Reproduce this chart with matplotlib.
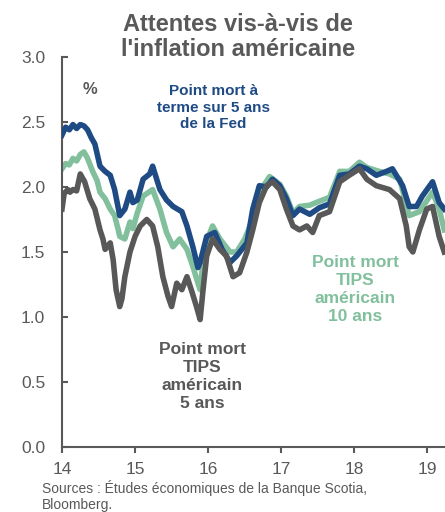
import numpy as np
from matplotlib import pyplot as plt

# Point mort a terme sur 5 ans de la Fed (5y5y)
fed_x = [14.00, 14.05, 14.10, 14.15, 14.20, 14.25, 14.30, 14.35, 14.40, 14.45, 14.52, 14.59,
         14.66, 14.72, 14.79, 14.86, 14.93, 14.97, 15.03, 15.11, 15.20, 15.24, 15.34, 15.43,
         15.52, 15.64, 15.71, 15.79, 15.86, 15.89, 15.98, 16.09, 16.19, 16.30, 16.39, 16.53,
         16.61, 16.70, 16.80, 16.88, 16.98, 17.07, 17.16, 17.25, 17.39, 17.52, 17.66, 17.80,
         17.93, 18.07, 18.17, 18.30, 18.44, 18.52, 18.66, 18.75, 18.85, 18.93, 19.07, 19.16, 19.23]
fed_y = [2.40, 2.46, 2.44, 2.48, 2.45, 2.48, 2.47, 2.44, 2.38, 2.33, 2.16, 2.12,
         2.09, 1.98, 1.78, 1.83, 1.96, 1.88, 1.90, 2.06, 2.10, 2.16, 1.98, 1.90,
         1.85, 1.81, 1.70, 1.54, 1.38, 1.42, 1.62, 1.65, 1.52, 1.42, 1.47, 1.57,
         1.83, 2.01, 2.00, 2.06, 2.01, 1.91, 1.78, 1.83, 1.79, 1.84, 1.87, 2.09,
         2.10, 2.16, 2.14, 2.09, 2.12, 2.14, 2.01, 1.85, 1.85, 1.93, 2.04, 1.88, 1.83]

# Point mort TIPS americain 10 ans
tips10_x = [14.00, 14.05, 14.10, 14.15, 14.20, 14.25, 14.30, 14.35, 14.42, 14.48, 14.52, 14.59,
            14.66, 14.72, 14.77, 14.79, 14.86, 14.93, 14.97, 15.03, 15.11, 15.24, 15.34, 15.43,
            15.52, 15.61, 15.71, 15.79, 15.86, 15.89, 15.95, 16.06, 16.16, 16.30, 16.39, 16.50,
            16.61, 16.70, 16.84, 16.98, 17.07, 17.16, 17.25, 17.39, 17.52, 17.66, 17.80, 17.93,
            18.07, 18.17, 18.34, 18.48, 18.62, 18.75, 18.89, 19.07, 19.16, 19.23]
tips10_y = [2.14, 2.18, 2.17, 2.22, 2.20, 2.25, 2.27, 2.22, 2.12, 2.05, 1.96, 1.91,
            1.83, 1.78, 1.67, 1.62, 1.60, 1.73, 1.68, 1.80, 1.93, 1.98, 1.83, 1.65,
            1.54, 1.60, 1.52, 1.39, 1.26, 1.21, 1.54, 1.70, 1.60, 1.50, 1.50, 1.60,
            1.75, 1.96, 2.08, 2.02, 1.93, 1.80, 1.85, 1.86, 1.89, 1.92, 2.12, 2.12,
            2.19, 2.15, 2.12, 2.10, 2.06, 1.78, 1.81, 1.96, 1.83, 1.67]

# Point mort TIPS americain 5 ans
tips5_x = [14.00, 14.03, 14.08, 14.11, 14.15, 14.20, 14.25, 14.31, 14.38, 14.45, 14.52, 14.56,
           14.59, 14.66, 14.70, 14.74, 14.79, 14.82, 14.86, 14.93, 15.00, 15.07, 15.16, 15.24,
           15.31, 15.38, 15.45, 15.50, 15.57, 15.64, 15.71, 15.78, 15.84, 15.89, 15.93, 15.98,
           16.06, 16.16, 16.25, 16.34, 16.43, 16.53, 16.61, 16.70, 16.80, 16.88, 16.98, 17.07,
           17.16, 17.25, 17.35, 17.43, 17.52, 17.66, 17.80, 17.93, 18.07, 18.17, 18.30, 18.48,
           18.62, 18.71, 18.75, 18.80, 18.89, 18.99, 19.07, 19.16, 19.23]
tips5_y = [1.83, 1.95, 1.98, 1.96, 1.98, 1.97, 2.10, 2.04, 1.91, 1.83, 1.67, 1.60,
           1.52, 1.57, 1.44, 1.21, 1.08, 1.14, 1.31, 1.50, 1.62, 1.70, 1.75, 1.70,
           1.54, 1.31, 1.16, 1.08, 1.26, 1.21, 1.31, 1.19, 1.08, 0.98, 1.21, 1.47,
           1.60, 1.52, 1.47, 1.31, 1.34, 1.50, 1.67, 1.88, 2.01, 2.04, 1.98, 1.83,
           1.70, 1.67, 1.70, 1.65, 1.78, 1.81, 2.04, 2.09, 2.14, 2.06, 2.01, 1.98,
           1.91, 1.70, 1.54, 1.50, 1.67, 1.83, 1.85, 1.62, 1.50]

year_ticks = [14, 15, 16, 17, 18, 19]
pct_ticks = [0.0, 0.5, 1.0, 1.5, 2.0, 2.5, 3.0]

BLUE = '#1f4b85'
GREEN = '#82c09d'
GREY = '#585858'
TXT = '#595959'

plt.rcParams['font.family'] = ['Liberation Sans', 'DejaVu Sans']

fig = plt.figure(figsize=(4.45, 5.12), dpi=100)
ax = fig.add_axes([0.1393, 0.127, 0.8607, 0.7617])

ax.plot(tips10_x, tips10_y, color=GREEN, linewidth=4, zorder=2)
ax.plot(fed_x, fed_y, color=BLUE, linewidth=4, zorder=3)
ax.plot(tips5_x, tips5_y, color=GREY, linewidth=4, zorder=4)

ax.set_xlim(14, 19.24)
ax.set_ylim(0, 3)
ax.set_xticks(year_ticks)
ax.set_yticks(pct_ticks)
ax.set_yticklabels(['%.1f' % v for v in pct_ticks])

for s in ['top', 'right']:
    ax.spines[s].set_visible(False)
for s in ['left', 'bottom']:
    ax.spines[s].set_color(TXT)
    ax.spines[s].set_linewidth(1.5)
ax.tick_params(axis='y', direction='in', length=4, width=1.5, color=TXT, labelsize=12.5,
               labelcolor=TXT, pad=12)
ax.tick_params(axis='x', direction='out', length=4.5, width=1.5, color=TXT, labelsize=12.5,
               labelcolor=TXT, pad=6)

ax.text(14.38, 2.75, '%', color=TXT, fontsize=12, fontweight='bold', ha='center', va='center')
ax.text(16.07, 2.61, 'Point mort à\nterme sur 5 ans\nde la Fed', color=BLUE, fontsize=11,
        fontweight='bold', ha='center', va='center', linespacing=1.25)
ax.text(18.01, 1.21, 'Point mort\nTIPS\naméricain\n10 ans', color=GREEN, fontsize=12.5,
        fontweight='bold', ha='center', va='center', linespacing=1.25)
ax.text(15.92, 0.54, 'Point mort\nTIPS\naméricain\n5 ans', color=GREY, fontsize=12.5,
        fontweight='bold', ha='center', va='center', linespacing=1.25)

fig.text(0.535, 0.927, "Attentes vis-à-vis de\nl'inflation américaine", color=TXT,
         fontsize=17, fontweight='bold', ha='center', va='center', linespacing=1.1)
fig.text(0.094, 0.032, 'Sources : Études économiques de la Banque Scotia,\nBloomberg.',
         color=TXT, fontsize=10, ha='left', va='center', linespacing=1.2)

fig.savefig('out.png', dpi=100)
